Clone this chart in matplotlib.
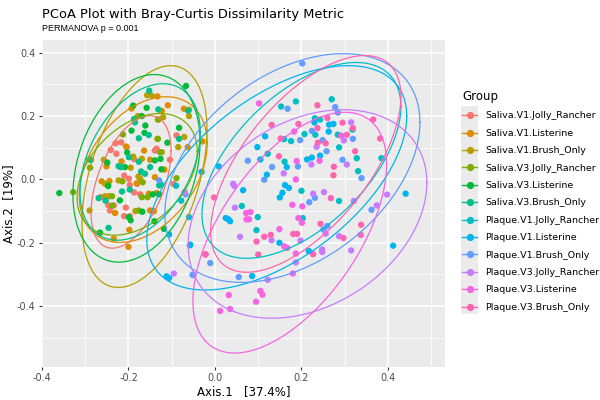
import numpy as np
import matplotlib
matplotlib.use('Agg')
from matplotlib import pyplot as plt
from matplotlib.lines import Line2D
from matplotlib.patches import Rectangle

# groups in legend order, ggplot hue palette
groups = ['Saliva.V1.Jolly_Rancher', 'Saliva.V1.Listerine', 'Saliva.V1.Brush_Only',
          'Saliva.V3.Jolly_Rancher', 'Saliva.V3.Listerine', 'Saliva.V3.Brush_Only',
          'Plaque.V1.Jolly_Rancher', 'Plaque.V1.Listerine', 'Plaque.V1.Brush_Only',
          'Plaque.V3.Jolly_Rancher', 'Plaque.V3.Listerine', 'Plaque.V3.Brush_Only']
colors = ['#F8766D', '#DE8C00', '#B79F00', '#7CAE00', '#00BA38', '#00C08B',
          '#00BFC4', '#00B4F0', '#619CFF', '#C77CFF', '#F564E3', '#FF64B0']

# PCoA coordinates (Axis.1, Axis.2)
s_v1_jr = [(-0.089, 0.139), (-0.23, 0.114), (-0.217, 0.117), (-0.204, 0.102), (-0.139, 0.091),
           (-0.135, 0.097), (-0.241, 0.093), (-0.187, 0.064), (-0.228, 0.081), (-0.104, 0.062),
           (-0.096, -0.014), (-0.21, 0.012), (-0.199, 0.002), (-0.197, -0.017), (-0.18, -0.014),
           (-0.187, -0.041), (-0.173, -0.047), (-0.264, -0.056), (-0.247, -0.081), (-0.243, -0.098),
           (-0.206, -0.089), (-0.21, -0.116), (-0.197, -0.116), (-0.234, -0.082)]
s_v1_li = [(-0.133, 0.262), (-0.109, 0.234), (-0.193, 0.224), (-0.123, 0.216), (-0.072, 0.223),
           (-0.132, 0.189), (-0.029, 0.12), (-0.063, 0.102), (-0.206, 0.104), (-0.164, 0.091),
           (-0.216, 0.057), (-0.251, 0.041), (-0.15, 0.062), (-0.117, 0.031), (-0.139, 0.007),
           (-0.181, -0.012), (-0.262, -0.006), (-0.244, -0.005), (-0.153, -0.045), (-0.135, -0.043),
           (-0.231, -0.106), (-0.15, -0.098), (-0.141, -0.1), (-0.198, -0.159), (-0.234, -0.187),
           (-0.2, -0.213)]
s_v1_bo = [(-0.157, 0.266), (-0.146, 0.264), (-0.12, 0.196), (-0.06, 0.22), (-0.06, 0.2),
           (-0.071, 0.134), (-0.178, 0.2), (-0.133, 0.128), (-0.085, 0.102), (-0.123, 0.086),
           (-0.189, 0.072), (-0.257, 0.062), (-0.195, 0.037), (-0.169, 0.065), (-0.177, 0.009),
           (-0.173, 0.002), (-0.223, -0.003), (-0.254, -0.014), (-0.254, -0.053), (-0.245, -0.053),
           (-0.184, -0.1), (-0.29, -0.098)]
s_v3_jr = [(-0.328, -0.04), (-0.213, 0.142), (-0.289, 0.037), (-0.089, 0.004), (-0.167, -0.009),
           (-0.214, -0.006), (-0.247, -0.016), (-0.169, -0.056), (-0.156, -0.056), (-0.238, -0.053),
           (-0.238, -0.083), (-0.176, -0.098), (-0.132, 0.128), (-0.127, 0.086), (-0.131, 0.189)]
s_v3_li = [(-0.36, -0.043), (-0.067, 0.295), (-0.189, 0.233), (-0.158, 0.226), (-0.169, 0.2),
           (-0.161, 0.17), (-0.193, 0.154), (-0.163, 0.147), (-0.083, 0.163), (-0.11, 0.116),
           (-0.203, 0.085), (-0.249, 0.053), (-0.208, 0.039), (-0.139, 0.06), (-0.126, 0.065),
           (-0.124, 0.032), (-0.247, -0.021), (-0.144, -0.047), (-0.129, -0.047), (-0.22, -0.066),
           (-0.168, -0.102), (-0.199, -0.119), (-0.195, -0.129), (-0.14, -0.132), (-0.118, -0.156),
           (-0.266, -0.168)]
s_v3_bo = [(-0.152, 0.28), (-0.131, 0.221), (-0.062, 0.217), (-0.187, 0.191), (-0.185, 0.18),
           (-0.176, 0.13), (-0.153, 0.14), (-0.199, 0.07), (-0.291, 0.063), (-0.287, 0.062),
           (-0.223, 0.042), (-0.218, 0.039), (-0.176, 0.056), (-0.15, 0.039), (-0.162, 0.018),
           (-0.171, 0.025), (-0.197, -0.032), (-0.215, -0.038), (-0.129, -0.019), (-0.125, -0.016),
           (-0.253, -0.067), (-0.269, -0.059), (-0.246, -0.153), (-0.083, 0.128)]
p_v1_jr = [(0.153, 0.23), (0.187, 0.246), (0.27, 0.253), (0.243, 0.189), (0.231, 0.193),
           (0.318, 0.157), (0.207, 0.143), (0.232, 0.141), (0.16, 0.127), (0.176, 0.121),
           (0.284, 0.141), (0.287, 0.101), (0.122, 0.081), (0.328, 0.067), (0.161, 0.056),
           (0.331, 0.026), (0.385, 0.067), (0.2, -0.036), (0.287, -0.068), (0.062, -0.084),
           (0.099, -0.119), (0.203, -0.122), (0.096, -0.16), (-0.057, -0.206), (-0.078, -0.067),
           (-0.09, -0.02)]
p_v1_li = [(-0.031, 0.024), (0.009, 0.041), (-0.06, -0.119), (0.025, -0.122), (0.031, -0.126),
           (-0.058, -0.208), (-0.106, -0.174), (-0.112, -0.306), (-0.106, -0.311), (0.23, 0.18),
           (0.264, 0.173), (0.274, 0.175), (0.116, 0.136), (0.263, 0.151), (0.098, 0.102),
           (0.105, 0.063), (0.213, 0.063), (0.224, 0.069), (0.243, 0.075), (0.166, 0.039),
           (0.12, 0.015), (0.065, -0.034), (0.162, -0.018), (0.171, -0.027), (0.156, -0.042),
           (0.15, -0.057), (0.441, -0.045), (0.035, -0.132), (0.149, -0.2), (0.217, -0.226),
           (0.412, -0.209), (0.086, -0.305)]
p_v1_bo = [(-0.129, -0.003), (-0.068, -0.047), (-0.011, -0.264), (-0.05, -0.302), (0.202, 0.366),
           (0.168, 0.223), (0.278, 0.228), (0.284, 0.211), (0.197, 0.124), (0.224, 0.153),
           (0.319, 0.128), (0.249, 0.124), (0.076, 0.059), (0.132, 0.039), (0.258, 0.089),
           (0.295, 0.062), (0.192, 0.041), (0.114, -0.001), (0.339, 0.004), (0.231, -0.058),
           (0.218, -0.072), (0.362, -0.096), (0.26, -0.147), (0.251, -0.158), (0.055, -0.308),
           (-0.052, -0.301)]
p_v3_jr = [(0.315, 0.18), (0.298, 0.123), (0.235, 0.103), (0.305, 0.047), (0.223, 0.047),
           (0.159, 0.019), (0.042, -0.014), (0.045, -0.021), (0.227, -0.045), (0.252, -0.04),
           (0.321, -0.068), (0.374, -0.082), (0.398, -0.048), (0.046, -0.089), (0.256, -0.171),
           (0.287, -0.179), (0.315, -0.224), (0.058, -0.181), (0.131, -0.192), (0.198, -0.193),
           (0.248, -0.221), (0.248, -0.229), (0.187, -0.262), (0.122, -0.317), (-0.095, -0.297),
           (-0.07, -0.04)]
p_v3_li = [(0.102, 0.24), (0.183, 0.151), (0.292, 0.138), (0.189, 0.058), (0.242, 0.059),
           (0.187, 0.0), (0.179, -0.08), (0.202, -0.085), (0.072, -0.106), (0.082, -0.103),
           (0.073, -0.126), (0.079, -0.126), (0.193, -0.122), (0.201, -0.137), (0.149, -0.157),
           (0.16, -0.211), (0.167, -0.216), (0.187, -0.234), (0.18, -0.297), (-0.022, -0.237),
           (0.105, -0.352), (0.11, -0.364), (0.095, -0.386), (0.032, -0.365), (0.035, -0.409),
           (0.012, -0.415)]
p_v3_bo = [(0.237, 0.234), (0.26, 0.194), (0.295, 0.179), (0.319, 0.162), (0.366, 0.189),
           (0.382, 0.129), (0.131, 0.172), (0.193, 0.175), (0.152, 0.129), (0.237, 0.162),
           (0.305, 0.141), (0.238, 0.116), (0.256, 0.114), (0.148, 0.073), (0.324, 0.089),
           (0.275, 0.04), (0.274, 0.013), (0.268, -0.059), (-0.002, -0.057), (0.244, -0.14),
           (0.338, -0.143), (0.337, -0.175), (0.297, -0.185), (0.114, -0.181), (0.129, -0.175),
           (0.181, -0.172), (0.19, -0.172), (0.096, -0.196), (0.227, -0.236), (0.1, -0.237),
           (-0.022, -0.236)]
points = [s_v1_jr, s_v1_li, s_v1_bo, s_v3_jr, s_v3_li, s_v3_bo,
          p_v1_jr, p_v1_li, p_v1_bo, p_v3_jr, p_v3_li, p_v3_bo]

# 95% ellipses: centre, half extents, tilt
ell_cx = [-0.194, -0.166, -0.163, -0.180, -0.1815, -0.173, 0.200, 0.143, 0.179, 0.214, 0.173, 0.210]
ell_cy = [-0.008, 0.031, 0.009, 0.016, 0.035, 0.055, 0.060, 0.005, 0.036, -0.109, -0.168, 0.049]
ell_sx = [0.0925, 0.148, 0.1445, 0.139, 0.147, 0.139, 0.230, 0.3006, 0.295, 0.276, 0.224, 0.220]
ell_sy = [0.209, 0.230, 0.350, 0.192, 0.296, 0.247, 0.309, 0.354, 0.361, 0.329, 0.380, 0.342]
ell_rho = [0.47, 0.36, 0.42, 0.38, 0.28, 0.38, 0.55, 0.55, 0.40, 0.30, 0.57, 0.62]

fig = plt.figure(figsize=(6, 4), dpi=100)
ax = fig.add_axes([42/600, 1 - 367/400, 403/600, 327/400])
ax.set_facecolor('#EBEBEB')

# points first, then ellipses on top
for pts, c in zip(points, colors):
    arr = np.array(pts)
    ax.scatter(arr[:, 0], arr[:, 1], s=21, color=c, edgecolors='none', zorder=3)

t = np.linspace(0, 2 * np.pi, 300)
for i, c in enumerate(colors):
    ex = ell_cx[i] + ell_sx[i] * np.cos(t)
    ey = ell_cy[i] + ell_sy[i] * (ell_rho[i] * np.cos(t) + np.sqrt(1 - ell_rho[i]**2) * np.sin(t))
    ax.plot(ex, ey, color=c, lw=0.9, zorder=4)

ax.set_xlim(-0.4, 0.532)
ax.set_ylim(-0.592, 0.44)
ax.set_xticks([-0.4, -0.2, 0.0, 0.2, 0.4])
ax.set_xticklabels(['-0.4', '-0.2', '0.0', '0.2', '0.4'])
ax.set_yticks([-0.4, -0.2, 0.0, 0.2, 0.4])
ax.set_yticklabels(['-0.4', '-0.2', '0.0', '0.2', '0.4'])
ax.set_xticks([-0.3, -0.1, 0.1, 0.3, 0.5], minor=True)
ax.set_yticks([-0.5, -0.3, -0.1, 0.1, 0.3], minor=True)
ax.grid(which='major', color='white', lw=1.1, zorder=0)
ax.grid(which='minor', color='white', lw=0.55, zorder=0)
ax.set_axisbelow(True)
for sp in ax.spines.values():
    sp.set_visible(False)
ax.tick_params(which='major', length=2.5, width=0.8, color='#333333', labelsize=7, labelcolor='#4D4D4D', pad=2)
ax.tick_params(which='minor', length=0)

ax.set_xlabel('Axis.1   [37.4%]', fontsize=8.5, color='black', labelpad=1)
ax.set_ylabel('Axis.2  [19%]', fontsize=8.5, color='black', labelpad=1)

fig.text(42/600, 1 - 18/400, 'PCoA Plot with Bray-Curtis Dissimilarity Metric', fontsize=9.4, va='baseline')
fig.text(42/600, 1 - 31/400, 'PERMANOVA p = 0.001', fontsize=6.5, family='Liberation Sans', va='baseline')

# legend
handles = [Line2D([0], [0], color=c, lw=1, marker='o', markersize=4.2) for c in colors]
fig.patches.append(Rectangle((461/600, 1 - 314/400), 17/600, 208/400, transform=fig.transFigure,
                             facecolor='#EBEBEB', edgecolor='none', zorder=0))
leg = fig.legend(handles, groups, loc='upper left', bbox_to_anchor=(462/600, 1 - 90/400),
                 frameon=False, fontsize=6.8, title='Group', title_fontsize=8.5,
                 handlelength=1.6, handletextpad=0.85, labelspacing=0.89,
                 borderaxespad=0, borderpad=0)
leg._legend_box.align = 'left'

fig.savefig('out.png', dpi=100)
